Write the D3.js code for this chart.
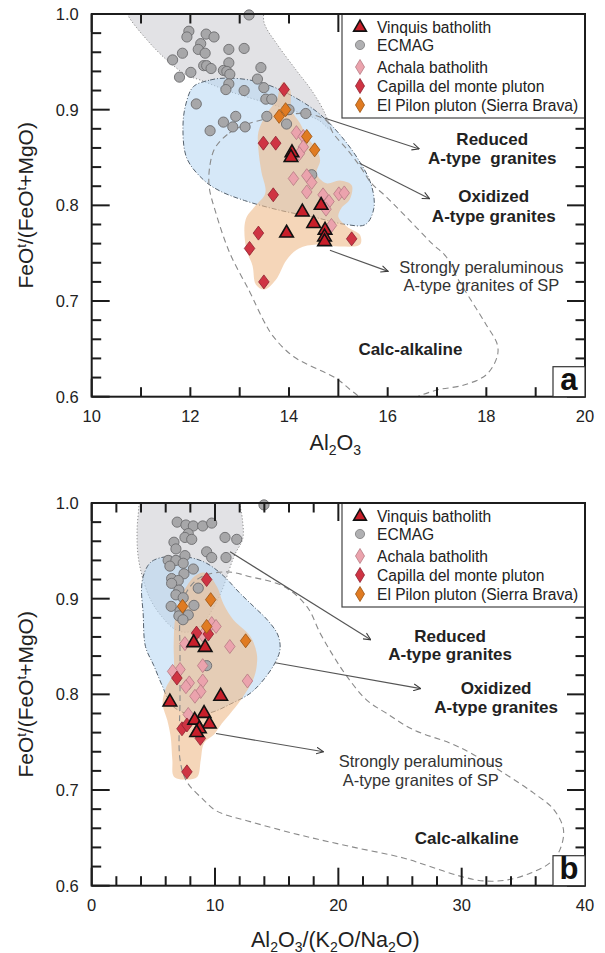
<!DOCTYPE html>
<html>
<head>
<meta charset="utf-8">
<script src="https://cdn.jsdelivr.net/npm/d3@7"></script>
<style>
  html, body { margin: 0; padding: 0; background: #fff; }
  svg { display: block; font-family: "Liberation Sans", Arial, Helvetica, sans-serif; }
</style>
</head>
<body>
<svg id="chart" width="605" height="953"></svg>
<script>
// ---------------- data: panel a (FeOt/(FeOt+MgO) vs Al2O3) ----------------
const vinquisA = [[14.06,0.855],[14.04,0.850],[14.27,0.793],[14.65,0.800],[13.95,0.771],[14.50,0.781],[14.73,0.774],[14.72,0.767],[14.72,0.762]];
const ecmagA = [[13.19,0.999],[11.97,0.982],[11.93,0.976],[12.32,0.979],[12.48,0.976],[12.21,0.969],[12.16,0.963],[12.30,0.959],[12.78,0.963],[13.09,0.964],
  [11.84,0.959],[11.64,0.952],[12.78,0.949],[12.67,0.941],[12.27,0.946],[12.33,0.946],[12.42,0.943],[13.43,0.944],[12.74,0.940],[12.80,0.937],
  [12.01,0.939],[11.78,0.934],[13.36,0.932],[12.78,0.927],[13.49,0.923],[12.72,0.921],[13.09,0.920],[13.53,0.911],[13.65,0.911],[12.12,0.906],
  [13.55,0.893],[14.34,0.896],[12.92,0.893],[12.67,0.887],[12.86,0.882],[13.11,0.882],[12.40,0.878],[13.95,0.885],[14.00,0.900],[14.46,0.832]];
const achalaA = [[14.15,0.876],[14.29,0.872],[14.29,0.861],[14.21,0.854],[14.09,0.828],[14.36,0.831],[14.46,0.824],[14.36,0.814],[14.69,0.811],[14.81,0.804],
  [15.01,0.812],[15.12,0.813],[14.86,0.779],[14.75,0.796]];
const capillaA = [[13.90,0.921],[13.48,0.865],[13.73,0.865],[13.68,0.811],[13.38,0.771],[13.20,0.755],[13.49,0.720],[15.27,0.765]];
const pilonA = [[13.93,0.900],[13.80,0.893],[14.36,0.872],[14.52,0.858]];

// compositional fields, panel a
const ecmagFieldA = [[10.60,1.02],[10.72,1.0],[11.12,0.973],[11.52,0.952],[11.93,0.936],[12.20,0.931],[12.80,0.919],[13.55,0.907],[14.15,0.898],
  [14.60,0.889],[14.84,0.879],[14.72,0.897],[14.46,0.920],[14.15,0.941],[13.75,0.969],[13.50,0.990],[13.42,1.02]];
const reducedFieldA = [[12.06,0.924],[12.40,0.931],[12.74,0.933],[13.30,0.930],[13.85,0.920],[14.56,0.898],[15.03,0.874],[15.44,0.845],[15.67,0.821],
  [15.72,0.797],[15.55,0.780],[15.15,0.780],[14.56,0.787],[13.80,0.795],[13.10,0.805],[12.60,0.815],[12.28,0.826],[11.93,0.849],[11.85,0.882],[11.91,0.906]];
const spFieldA = [[13.88,0.929],[14.02,0.921],[14.05,0.900],[14.22,0.886],[14.36,0.872],[14.56,0.858],[14.63,0.847],[14.56,0.833],[14.76,0.823],[15.03,0.826],
  [15.27,0.821],[15.23,0.806],[15.06,0.797],[15.00,0.788],[15.17,0.778],[15.44,0.769],[15.44,0.759],[15.03,0.757],[14.56,0.759],[14.20,0.755],
  [13.95,0.743],[13.73,0.722],[13.50,0.712],[13.33,0.717],[13.26,0.737],[13.13,0.755],[13.12,0.785],[13.31,0.799],[13.52,0.813],[13.44,0.835],
  [13.38,0.858],[13.38,0.877],[13.55,0.896],[13.75,0.910],[13.82,0.924]];
const calcFieldA = [[13.10,0.884],[12.75,0.874],[12.50,0.860],[12.40,0.843],[12.38,0.820],[12.50,0.795],[12.80,0.750],[13.20,0.710],[13.48,0.680],
  [13.68,0.663],[14.09,0.642],[14.96,0.619],[15.30,0.605],[15.90,0.585],[16.50,0.598],[17.00,0.607],[17.53,0.612],[18.00,0.623],[18.22,0.642],
  [18.22,0.655],[18.00,0.675],[17.70,0.700],[17.40,0.725],[17.19,0.746],[16.90,0.760],[16.43,0.785],[15.95,0.810],[15.67,0.823],[15.45,0.840],
  [15.20,0.857],[14.90,0.875],[14.75,0.889],[14.30,0.896],[13.70,0.892]];

// ---------------- data: panel b (FeOt/(FeOt+MgO) vs Al2O3/(K2O/Na2O)) ----------------
const vinquisB = [[8.27,0.854],[9.20,0.849],[10.46,0.798],[6.34,0.792],[9.11,0.780],[8.35,0.773],[9.54,0.769],[8.73,0.764],[8.51,0.760]];
const ecmagB = [[13.97,0.998],[6.93,0.980],[7.64,0.977],[8.24,0.976],[9.00,0.976],[9.73,0.979],[7.83,0.968],[7.56,0.964],[8.11,0.962],[6.67,0.959],
  [10.81,0.964],[11.76,0.962],[6.83,0.952],[7.56,0.945],[9.32,0.949],[9.73,0.943],[10.89,0.943],[6.20,0.940],[6.83,0.940],[6.34,0.934],
  [7.42,0.937],[8.24,0.931],[7.48,0.926],[6.48,0.921],[7.02,0.919],[6.48,0.916],[7.07,0.909],[8.64,0.911],[6.83,0.904],[7.42,0.901],
  [6.44,0.892],[8.29,0.893],[7.16,0.887],[7.83,0.883],[7.07,0.882],[7.40,0.878],[9.32,0.830]];
const achalaB = [[9.73,0.874],[10.08,0.871],[9.00,0.862],[7.56,0.853],[11.20,0.850],[7.16,0.826],[6.56,0.824],[9.00,0.830],[7.91,0.812],[7.64,0.808],
  [9.00,0.814],[8.84,0.803],[8.37,0.798],[12.63,0.814],[7.83,0.779]];
const capillaB = [[9.32,0.920],[8.50,0.864],[9.46,0.863],[6.91,0.817],[7.32,0.764],[7.72,0.768],[8.81,0.754],[7.72,0.719]];
const pilonB = [[7.37,0.892],[9.65,0.899],[9.32,0.871],[12.48,0.856]];

// compositional fields, panel b
const ecmagFieldB = [[3.80,1.02],[3.84,1.0],[3.68,0.972],[3.76,0.945],[4.17,0.920],[4.81,0.898],[5.70,0.881],[6.75,0.868],[7.73,0.865],[8.78,0.871],
  [9.76,0.888],[10.57,0.909],[11.14,0.930],[11.60,0.946],[12.25,0.963],[12.20,0.985],[12.00,1.0],[12.00,1.02]];
const reducedFieldB = [[5.00,0.940],[6.10,0.944],[7.97,0.943],[9.32,0.937],[10.67,0.924],[12.00,0.906],[13.20,0.891],[14.30,0.877],[15.10,0.862],
  [15.27,0.847],[14.87,0.833],[13.92,0.815],[12.84,0.801],[11.27,0.790],[9.92,0.782],[8.30,0.778],[6.54,0.788],[5.72,0.809],[5.04,0.830],
  [4.36,0.850],[4.17,0.885],[4.04,0.909],[4.17,0.923],[4.58,0.935]];
const spFieldB = [[9.19,0.927],[10.14,0.913],[10.67,0.895],[11.48,0.878],[12.84,0.861],[13.38,0.843],[13.38,0.830],[13.11,0.816],[12.03,0.793],
  [10.41,0.767],[9.92,0.758],[9.11,0.749],[8.84,0.731],[8.57,0.714],[7.76,0.711],[6.67,0.714],[6.54,0.731],[6.40,0.756],[6.13,0.773],
  [5.75,0.790],[6.00,0.806],[6.60,0.822],[6.65,0.853],[6.75,0.878],[7.15,0.899],[7.70,0.913],[8.40,0.924]];
const calcFieldB = [[7.16,0.878],[7.57,0.904],[8.78,0.922],[10.95,0.928],[12.84,0.923],[15.54,0.913],[17.44,0.892],[18.52,0.864],[19.60,0.840],
  [20.68,0.819],[22.30,0.794],[23.93,0.780],[26.08,0.763],[29.06,0.749],[30.68,0.739],[33.38,0.718],[35.82,0.697],[37.44,0.680],[38.25,0.659],
  [37.98,0.638],[37.17,0.624],[35.55,0.613],[33.66,0.606],[31.76,0.605],[29.87,0.610],[27.44,0.620],[25.27,0.629],[20.95,0.641],[16.89,0.653],
  [12.84,0.667],[10.14,0.678],[9.05,0.690],[7.70,0.709],[7.16,0.732],[7.16,0.794],[7.16,0.847]];

// ---------------- axes, legend and annotation text ----------------
const yTickLabels = [0.6, 0.7, 0.8, 0.9, 1.0];
const xTickLabelsA = [10, 12, 14, 16, 18, 20];
const xTickLabelsB = [0, 10, 20, 30, 40];
const legendNames = ["Vinquis batholith", "ECMAG", "Achala batholith", "Capilla del monte pluton", "El Pilon pluton (Sierra Brava)"];

// field-name annotations: [x, y, text, bold]
const notesA = [[18.12,0.8626,"Reduced",true],[18.12,0.8427,"A-type  granites",true],[18.15,0.803,"Oxidized",true],[18.15,0.7831,"A-type granites",true],
  [17.9,0.7293,"Strongly peraluminous",false],[17.9,0.710,"A-type granites of SP",false],[16.46,0.6436,"Calc-alkaline",true]];
const notesB = [[29.06,0.8552,"Reduced",true],[29.06,0.8361,"A-type granites",true],[32.79,0.8006,"Oxidized",true],[32.79,0.7805,"A-type granites",true],
  [26.68,0.7244,"Strongly peraluminous",false],[26.68,0.7039,"A-type granites of SP",false],[30.41,0.644,"Calc-alkaline",true]];
// leader arrows from each field to its name: [from, to]
const arrowsA = [[[14.73,0.891],[16.64,0.859]],[[15.43,0.844],[16.85,0.807]],[[14.83,0.753],[16.01,0.731]]];
const arrowsB = [[[11.22,0.949],[22.63,0.857]],[[14.87,0.833],[26.68,0.806]],[[10.08,0.759],[18.80,0.740]]];

// ---------------- drawing ----------------
const svg = d3.select("#chart");
const PL = 91.7, PW = 493.3, PH = 382.7;
const INK = "#1c1c1c";

const defs = svg.append("defs");
defs.append("marker")
  .attr("id", "arrowhead").attr("viewBox", "0 0 10 10")
  .attr("refX", 9.5).attr("refY", 5)
  .attr("markerWidth", 8).attr("markerHeight", 8)
  .attr("markerUnits", "userSpaceOnUse").attr("orient", "auto")
  .append("path").attr("d", "M0.5,0.8L9.5,5L0.5,9.2")
  .attr("fill", "none").attr("stroke", "#3a3a3a").attr("stroke-width", 1.3);

const styles = {
  vinquis: { fill: "#c81f2a", stroke: "#111", sw: 1.6 },
  ecmag:   { fill: "#a7a7a9", stroke: "#6c6c6e", sw: 0.9 },
  achala:  { fill: "#eba3ad", stroke: "#b57a83", sw: 0.8 },
  capilla: { fill: "#cf3443", stroke: "#8d2130", sw: 0.8 },
  pilon:   { fill: "#e07b22", stroke: "#99520f", sw: 0.8 }
};
const triangle = d3.symbol(d3.symbolTriangle, 80);
const diamondPath = (w, h) => `M0,${-h/2}L${w/2},0L0,${h/2}L${-w/2},0Z`;

const panels = [
  { key: "a", top: 14, xDomain: [10, 20], xMinor: 1, xMajor: 5, xLabels: xTickLabelsA,
    title: [["Al",0],["2",1],["O",0],["3",1]], titleBase: 450,
    vinquis: vinquisA, ecmag: ecmagA, achala: achalaA, capilla: capillaA, pilon: pilonA,
    ecmagField: ecmagFieldA, reducedField: reducedFieldA, spField: spFieldA, calcField: calcFieldA,
    notes: notesA, arrows: arrowsA },
  { key: "b", top: 503, xDomain: [0, 40], xMinor: 2, xMajor: 10, xLabels: xTickLabelsB,
    title: [["Al",0],["2",1],["O",0],["3",1],["/(K",0],["2",1],["O/Na",0],["2",1],["O)",0]], titleBase: 947,
    vinquis: vinquisB, ecmag: ecmagB, achala: achalaB, capilla: capillaB, pilon: pilonB,
    ecmagField: ecmagFieldB, reducedField: reducedFieldB, spField: spFieldB, calcField: calcFieldB,
    notes: notesB, arrows: arrowsB }
];

panels.forEach(p => {
  const x = d3.scaleLinear().domain(p.xDomain).range([0, PW]);
  const y = d3.scaleLinear().domain([0.6, 1.0]).range([PH, 0]);
  const g = svg.append("g").attr("transform", `translate(${PL},${p.top})`);

  const clipId = "clip-" + p.key;
  defs.append("clipPath").attr("id", clipId)
    .append("rect").attr("width", PW).attr("height", PH);

  const area = d3.line().x(d => x(d[0])).y(d => y(d[1]))
    .curve(d3.curveCatmullRomClosed.alpha(0.5));

  const fields = g.append("g").attr("clip-path", `url(#${clipId})`);
  fields.append("path").attr("d", area(p.ecmagField))
    .attr("fill", "#cfcfd3").attr("fill-opacity", 0.6)
    .attr("stroke", "#8c8c8c").attr("stroke-width", 1).attr("stroke-dasharray", "1.2 2");
  fields.append("path").attr("d", area(p.reducedField))
    .attr("fill", "#b9d8f3").attr("fill-opacity", 0.58)
    .attr("stroke", "#56626e").attr("stroke-width", 1).attr("stroke-dasharray", "5 2 1 2");
  fields.append("path").attr("d", area(p.spField))
    .attr("fill", "#eebb8b").attr("fill-opacity", 0.6).attr("stroke", "none");
  fields.append("path").attr("d", area(p.calcField))
    .attr("fill", "none").attr("stroke", "#8a8a8a").attr("stroke-width", 1.1)
    .attr("stroke-dasharray", "6 4");

  // leader arrows
  g.append("g").selectAll("line").data(p.arrows).join("line")
    .attr("x1", d => x(d[0][0])).attr("y1", d => y(d[0][1]))
    .attr("x2", d => x(d[1][0])).attr("y2", d => y(d[1][1]))
    .attr("stroke", "#555").attr("stroke-width", 1.1)
    .attr("marker-end", "url(#arrowhead)");

  // field names
  g.append("g").selectAll("text").data(p.notes).join("text")
    .attr("x", d => x(d[0])).attr("y", d => y(d[1]))
    .attr("text-anchor", "middle")
    .attr("font-size", d => d[3] ? 17 : 16.5)
    .attr("font-weight", d => d[3] ? "bold" : "normal")
    .attr("fill", d => d[3] ? "#222" : "#333")
    .style("white-space", "pre")
    .text(d => d[2]);

  // samples
  const pts = g.append("g");
  pts.selectAll("circle").data(p.ecmag).join("circle")
    .attr("cx", d => x(d[0])).attr("cy", d => y(d[1])).attr("r", 5.1)
    .attr("fill", styles.ecmag.fill).attr("stroke", styles.ecmag.stroke).attr("stroke-width", styles.ecmag.sw);
  [["achala", p.achala], ["capilla", p.capilla], ["pilon", p.pilon]].forEach(([k, arr]) => {
    pts.append("g").selectAll("path").data(arr).join("path")
      .attr("d", diamondPath(10.5, 14))
      .attr("transform", d => `translate(${x(d[0])},${y(d[1])})`)
      .attr("fill", styles[k].fill).attr("stroke", styles[k].stroke).attr("stroke-width", styles[k].sw);
  });
  pts.append("g").selectAll("path").data(p.vinquis).join("path")
    .attr("d", triangle)
    .attr("transform", d => `translate(${x(d[0])},${y(d[1])})`)
    .attr("fill", styles.vinquis.fill).attr("stroke", styles.vinquis.stroke)
    .attr("stroke-width", styles.vinquis.sw).attr("stroke-linejoin", "miter");

  // inward ticks on all four sides
  const ticks = g.append("g").attr("stroke", INK).attr("stroke-width", 2);
  const isMult = (v, m) => Math.abs(v / m - Math.round(v / m)) < 1e-6;
  const xt = d3.range(p.xDomain[0], p.xDomain[1] + 1e-9, p.xMinor);
  xt.forEach(v => {
    const len = isMult(v, p.xMajor) ? 18 : 9.5;
    ticks.append("line").attr("x1", x(v)).attr("x2", x(v)).attr("y1", PH).attr("y2", PH - len);
    ticks.append("line").attr("x1", x(v)).attr("x2", x(v)).attr("y1", 0).attr("y2", len);
  });
  const yt = d3.range(0.6, 1.0 + 1e-9, 0.02);
  yt.forEach(v => {
    const len = isMult(v, 0.1) ? 18 : 9.5;
    ticks.append("line").attr("x1", 0).attr("x2", len).attr("y1", y(v)).attr("y2", y(v));
    ticks.append("line").attr("x1", PW).attr("x2", PW - len).attr("y1", y(v)).attr("y2", y(v));
  });

  // tick labels
  g.append("g").selectAll("text").data(p.xLabels).join("text")
    .attr("x", d => x(d)).attr("y", PH + 25)
    .attr("text-anchor", "middle").attr("font-size", 16.5).attr("fill", "#222")
    .text(d => d);
  g.append("g").selectAll("text").data(yTickLabels).join("text")
    .attr("x", -13).attr("y", d => y(d) + 6)
    .attr("text-anchor", "end").attr("font-size", 16.5).attr("fill", "#222")
    .text(d3.format(".1f"));

  // x-axis title with subscripts
  const xt2 = svg.append("text")
    .attr("x", PL + PW / 2 - 3).attr("y", p.titleBase)
    .attr("text-anchor", "middle").attr("font-size", 21.5).attr("fill", "#222");
  let shifted = false;
  p.title.forEach(([s, sub]) => {
    const t = xt2.append("tspan").text(s);
    if (sub && !shifted) { t.attr("dy", 4.5).attr("font-size", 14); shifted = true; }
    else if (sub) { t.attr("font-size", 14); }
    else if (!sub && shifted) { t.attr("dy", -4.5); shifted = false; }
  });

  // y-axis title with superscripts
  const yt2 = svg.append("text")
    .attr("transform", `translate(33,${p.top + PH / 2}) rotate(-90)`)
    .attr("text-anchor", "middle").attr("font-size", 21).attr("fill", "#222");
  [["FeO",0],["t",1],["/(FeO",0],["t",1],["+MgO)",0]].forEach(([s, sup]) => {
    const t = yt2.append("tspan").text(s);
    if (sup) t.attr("dy", -7).attr("font-size", 13);
    else if (s !== "FeO") t.attr("dy", 7);
  });

  // legend
  const lg = g.append("g").attr("transform", "translate(250.3,0)");
  lg.append("rect").attr("width", PW - 250.3).attr("height", 104)
    .attr("fill", "#fff").attr("stroke", "#444").attr("stroke-width", 1.2);
  const rowY = [13, 31, 53, 72, 91];
  const keys = ["vinquis", "ecmag", "achala", "capilla", "pilon"];
  keys.forEach((k, i) => {
    const cy = rowY[i];
    if (k === "vinquis") {
      lg.append("path").attr("d", d3.symbol(d3.symbolTriangle, 70)())
        .attr("transform", `translate(18,${cy + 0.5})`)
        .attr("fill", styles[k].fill).attr("stroke", styles[k].stroke).attr("stroke-width", 1.6);
    } else if (k === "ecmag") {
      lg.append("circle").attr("cx", 18).attr("cy", cy).attr("r", 4.6)
        .attr("fill", "#b0b0b2").attr("stroke", "#7d7d7f").attr("stroke-width", 0.8);
    } else {
      lg.append("path").attr("d", diamondPath(9, 15))
        .attr("transform", `translate(18,${cy})`)
        .attr("fill", styles[k].fill).attr("stroke", styles[k].stroke).attr("stroke-width", 0.8);
    }
    lg.append("text").attr("x", 35).attr("y", cy + 5.6)
      .attr("font-size", 15.6).attr("fill", "#222").text(legendNames[i]);
  });

  // frame
  g.append("rect").attr("width", PW).attr("height", PH)
    .attr("fill", "none").attr("stroke", INK).attr("stroke-width", 2);

  // panel letter
  g.append("rect").attr("x", PW - 32).attr("y", PH - 30).attr("width", 32).attr("height", 30)
    .attr("fill", "#fff").attr("stroke", "#333").attr("stroke-width", 1.2);
  g.append("text").attr("x", PW - 16).attr("y", PH - 7)
    .attr("text-anchor", "middle").attr("font-size", 31).attr("font-weight", "bold")
    .attr("fill", "#111").text(p.key);
});
</script>
</body>
</html>
